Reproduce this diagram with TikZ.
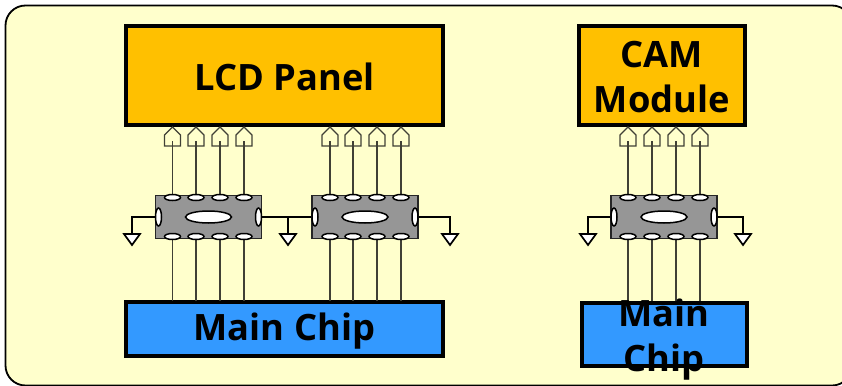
\documentclass[tikz,border=0pt]{standalone}
\usepackage{fontspec}
\setmainfont{Open Sans}
\definecolor{bgy}{HTML}{FFFFCC}
\definecolor{gold}{HTML}{FFC000}
\definecolor{chipblue}{HTML}{3399FF}
\definecolor{icgrey}{HTML}{969696}
\definecolor{wirec}{HTML}{404035}
\tikzset{
  blockbox/.style={draw=black,line width=4pt,rectangle,inner sep=0pt,align=center},
  bigtext/.style={font=\fontsize{36.3}{45}\selectfont\bfseries,align=center,inner sep=0pt},
  icbox/.style={draw=black!85,line width=1.8pt,fill=icgrey,rectangle,inner sep=0pt,minimum width=106pt,minimum height=43pt},
  padh/.style={draw=black,line width=1.5pt,fill=white,ellipse,inner sep=0pt,minimum width=16pt,minimum height=6pt},
  padv/.style={draw=black,line width=1.5pt,fill=white,ellipse,inner sep=0pt,minimum width=6pt,minimum height=18pt},
  hole/.style={draw=black,line width=1.5pt,fill=white,ellipse,inner sep=0pt,minimum width=46pt,minimum height=12pt},
  wire/.style={draw=wirec,line width=1.2pt},
  gnd/.style={draw=black,line width=1.9pt},
  gndtri/.style={draw=black,line width=1.7pt,fill=white,line join=miter},
  penta/.style={draw=wirec,line width=1.1pt,fill=bgy}
}
\usetikzlibrary{shapes.geometric}
\newcommand{\penta}[1]{\draw[penta] ([xshift=-8pt,yshift=-19pt]#1) -- ([xshift=-8pt,yshift=-8pt]#1) -- (#1) -- ([xshift=8pt,yshift=-8pt]#1) -- ([xshift=8pt,yshift=-19pt]#1) -- cycle;}
\newcommand{\gtri}[1]{\draw[gndtri] ([xshift=-8pt]#1) -- ([xshift=8pt]#1) -- ([yshift=-11pt]#1) -- cycle;}
\begin{document}
\begin{tikzpicture}[x=1pt,y=-1pt]
\useasboundingbox (0,0) rectangle (842,385);
\fill[white] (0,0) rectangle (842,385);
\begin{scope}
\clip (0,0) rectangle (842,385);
\draw[fill=bgy,draw=black,line width=1.8pt,rounded corners=20pt] (5.5,5.5) rectangle (852,385.5);
\end{scope}
% blocks
\node[blockbox,fill=gold,minimum width=317pt,minimum height=98pt] (lcd) at (284.5,75.5) {};
\node[bigtext] (lcdt) at (284.5,77) {LCD Panel};
\node[blockbox,fill=gold,minimum width=166pt,minimum height=98pt] (cam) at (662,75.5) {};
\node[blockbox,fill=chipblue,minimum width=317pt,minimum height=54pt] (mc1) at (284.5,328.5) {};
\node[bigtext] (mc1t) at (284.5,331) {Main Chip};
\node[blockbox,fill=chipblue,minimum width=165pt,minimum height=63pt] (mc2) at (664,334) {};
\node[bigtext] (camt) at (662,77) {CAM\\Module};
% ICs and their connections
\foreach \n/\cx/\xa/\xb/\xc/\xd/\mc/\pn in {
  a/208.5/172.5/196/220/244/mc1/lcd,
  b/365/330/353/377/401/mc1/lcd,
  c/664/628/652/676/700/mc2/cam}{
  \foreach \i/\px in {1/\xa,2/\xb,3/\xc,4/\xd}{
    \coordinate (top\n\i) at (\px,141);
    \coordinate (tip\n\i) at (\px,127);
    \coordinate (ict\n\i) at (\px,197.5);
    \coordinate (icb\n\i) at (\px,236.5);
    \coordinate (mcb\n\i) at (\px,301);
    \penta{tip\n\i}
    \draw[wire] (top\n\i) -- (ict\n\i);
    \draw[wire] (icb\n\i) -- (mcb\n\i);
  }
}
% ground wires
\coordinate (gl1) at (132,234); \coordinate (gm1) at (288,234);
\coordinate (gr1) at (450,234); \coordinate (gl2) at (588,234); \coordinate (gr2) at (743,234);
\node[icbox] (ica) at (208.5,217) {};
\node[icbox] (icb) at (365,217) {};
\node[icbox] (icc) at (664,217) {};
\draw[gnd] (ica.west) -| (gl1);
\draw[gnd] (ica.east) -- (icb.west);
\draw[gnd] (gm1) -- (gm1 |- ica.east);
\draw[gnd] (icb.east) -| (gr1);
\draw[gnd] (icc.west) -| (gl2);
\draw[gnd] (icc.east) -| (gr2);
\foreach \g in {gl1,gm1,gr1,gl2,gr2}{\gtri{\g}}
\foreach \n/\cx in {a/208.5,b/365,c/664}{
  \node[hole] (hole\n) at (\cx,217) {};
  \node[padv] (pl\n) at (\cx-50,217) {};
  \node[padv] (pr\n) at (\cx+50,217) {};
  \foreach \i in {1,2,3,4}{
    \node[padh] (pt\n\i) at (ict\n\i) {};
    \node[padh] (pb\n\i) at (icb\n\i) {};
  }
}
% overflow text on top
\node[bigtext] (mct) at (664,339.5) {Main\\Chip};
\end{tikzpicture}
\end{document}
